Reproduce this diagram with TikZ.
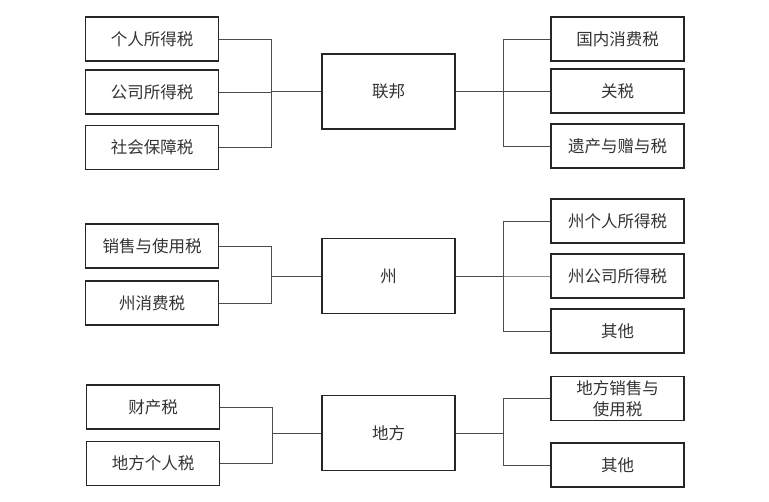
\documentclass[tikz,border=0pt]{standalone}
\usepackage{fontspec}
\newfontfamily\cjk{Noto Sans CJK SC}
\begin{document}
\begin{tikzpicture}[x=1pt,y=-1pt,
  leaf/.style={draw=black!85,line width=1.2pt,minimum width=133pt,minimum height=44pt,inner sep=0pt,font=\cjk\fontsize{16.5}{21.5}\selectfont,text=black!80,align=center},
  hub/.style={leaf,minimum height=75pt},
  conn/.style={draw=black!70,line width=0.7pt}]
\useasboundingbox (0,0) rectangle (769,502);
% Federal
\node[hub] (f) at (388.5,91.5) {联邦};
\node[leaf] (f1) at (152,39) {个人所得税};
\node[leaf] (f2) at (152,92) {公司所得税};
\node[leaf] (f3) at (152,147.5) {社会保障税};
\node[leaf] (f4) at (617.5,39) {国内消费税};
\node[leaf] (f5) at (617.5,91) {关税};
\node[leaf] (f6) at (617.5,146) {遗产与赠与税};
\coordinate (fl) at (271,91.5);
\coordinate (fr) at (503,91.5);
% State
\node[hub] (s) at (388.5,276) {州};
\node[leaf] (s1) at (152,246) {销售与使用税};
\node[leaf] (s2) at (152,303) {州消费税};
\node[leaf] (s3) at (617.5,221) {州个人所得税};
\node[leaf] (s4) at (617.5,276) {州公司所得税};
\node[leaf] (s5) at (617.5,331) {其他};
\coordinate (sl) at (271,276);
\coordinate (sr) at (503,276);
% Local
\node[hub] (l) at (388.5,433) {地方};
\node[leaf] (l1) at (153,407) {财产税};
\node[leaf] (l2) at (153,463.5) {地方个人税};
\node[leaf,text width=110pt] (l3) at (617.5,398.5) {地方销售与\\使用税};
\node[leaf] (l4) at (617.5,465) {其他};
\coordinate (ll) at (272,433);
\coordinate (lr) at (503,433);
% connectors
\foreach \c/\b/\h in {f1/fl/f,f2/fl/f,f3/fl/f,s1/sl/s,s2/sl/s,l1/ll/l,l2/ll/l}
  \draw[conn] (\c.east) -| (\b) -- (\b -| \h.west);
\foreach \c/\b/\h in {f4/fr/f,f5/fr/f,f6/fr/f,s3/sr/s,s4/sr/s,s5/sr/s,l3/lr/l,l4/lr/l}
  \draw[conn] (\c.west) -| (\b) -- (\b -| \h.east);
\end{tikzpicture}
\end{document}
